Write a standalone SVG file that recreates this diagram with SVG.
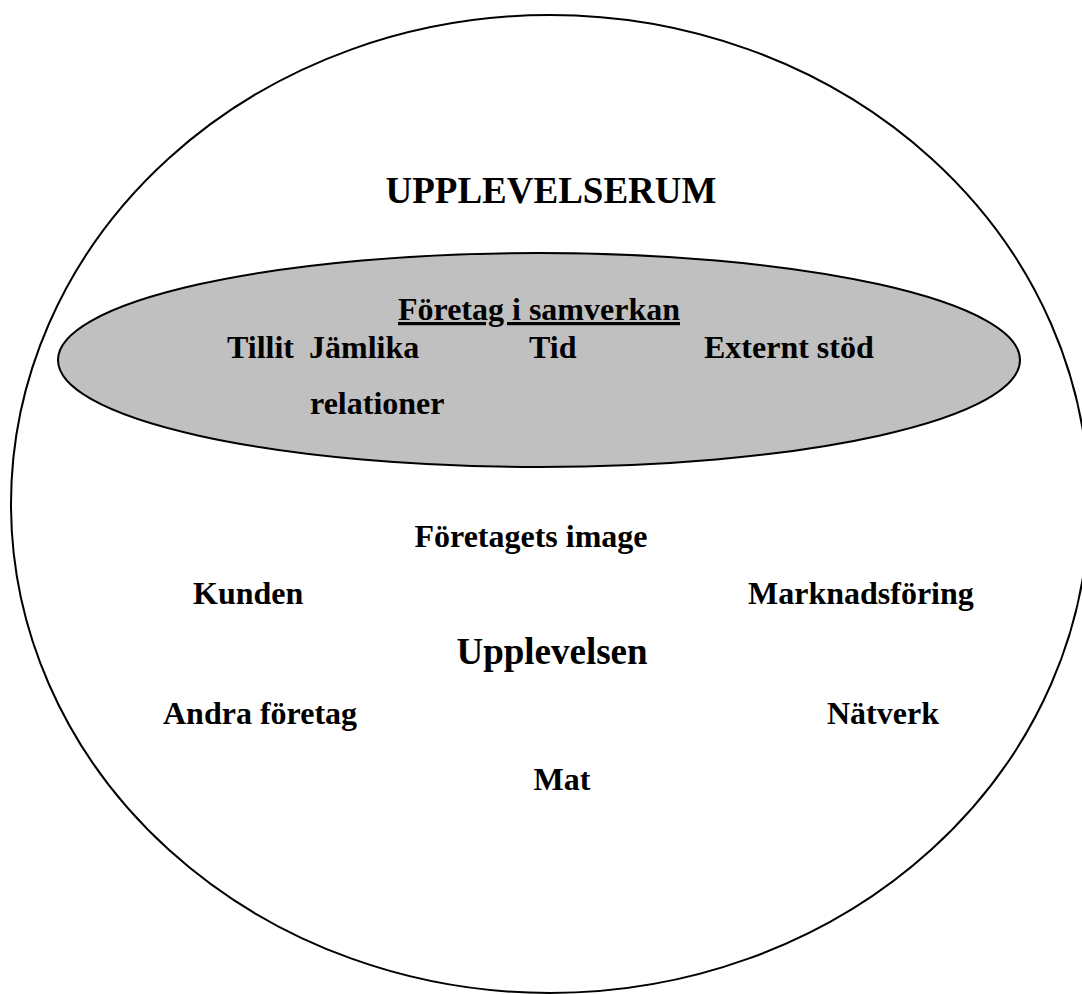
<svg xmlns="http://www.w3.org/2000/svg" width="1082" height="994" viewBox="0 0 1082 994">
<style>
.t{font-family:"Liberation Serif","Times New Roman",serif;font-weight:bold;fill:#000}
.s32{font-size:32px}
.s37{font-size:37px}
.outline{stroke:#000;stroke-width:2}
</style>
<rect width="1082" height="994" fill="#fff"/>
<g id="upplevelserum">
<ellipse class="outline" cx="550" cy="504" rx="539" ry="489" fill="none"/>
<text class="t s37" x="551" y="203" text-anchor="middle">UPPLEVELSERUM</text>
</g>
<g id="foretag-i-samverkan">
<ellipse class="outline" cx="539" cy="360" rx="481" ry="107" fill="#c0c0c0"/>
<text class="t s32" x="539" y="320" text-anchor="middle" text-decoration="underline">Företag i samverkan</text>
<text class="t s32" x="227" y="358">Tillit</text>
<text class="t s32" x="309" y="358">Jämlika</text>
<text class="t s32" x="310" y="414">relationer</text>
<text class="t s32" x="529" y="358">Tid</text>
<text class="t s32" x="704" y="358">Externt stöd</text>
</g>
<g id="foretagets-image"><text class="t s32" x="531" y="547" text-anchor="middle">Företagets image</text></g>
<g id="kunden"><text class="t s32" x="193" y="604">Kunden</text></g>
<g id="marknadsforing"><text class="t s32" x="748" y="604">Marknadsföring</text></g>
<g id="upplevelsen"><text class="t s37" x="552" y="664" text-anchor="middle">Upplevelsen</text></g>
<g id="andra-foretag"><text class="t s32" x="163" y="724">Andra företag</text></g>
<g id="natverk"><text class="t s32" x="827" y="724">Nätverk</text></g>
<g id="mat"><text class="t s32" x="562" y="790" text-anchor="middle">Mat</text></g>
<g id="connectors"></g>
</svg>
